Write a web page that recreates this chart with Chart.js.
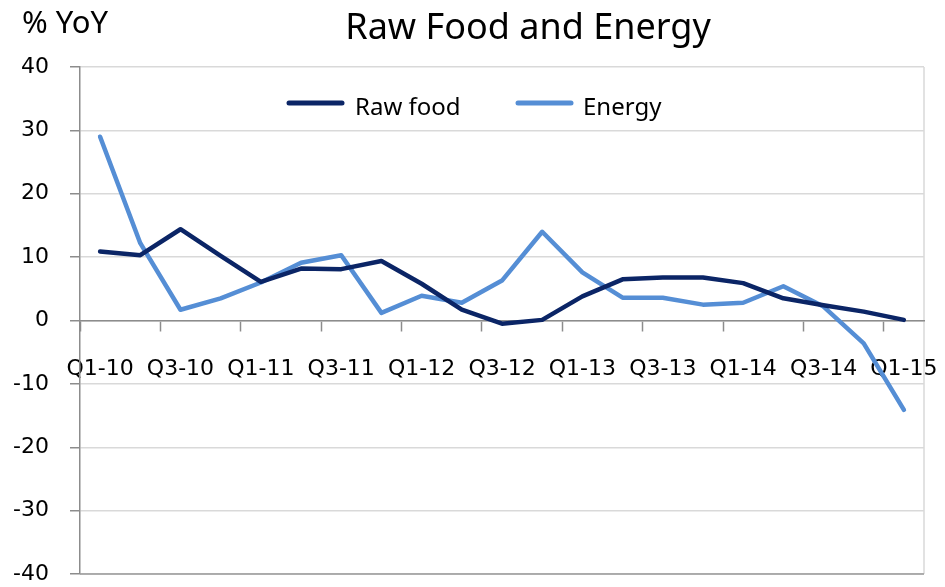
<!DOCTYPE html>
<html>
<head>
<meta charset="utf-8">
<script src="https://cdn.jsdelivr.net/npm/chart.js@4"></script>
<style>
  html, body { margin: 0; padding: 0; background: #fff; }
  canvas { display: block; }
</style>
</head>
<body>
<canvas id="chart-lines" width="945" height="587"></canvas>
<script>
// quarters Q1-10 .. Q1-15
const quarters = ['Q1-10','Q2-10','Q3-10','Q4-10','Q1-11','Q2-11','Q3-11','Q4-11',
  'Q1-12','Q2-12','Q3-12','Q4-12','Q1-13','Q2-13','Q3-13','Q4-13',
  'Q1-14','Q2-14','Q3-14','Q4-14','Q1-15'];

const rawFood = [10.9, 10.3, 14.4, 10.2, 6.1, 8.2, 8.1, 9.4, 5.8, 1.7, -0.5,
  0.1, 3.8, 6.5, 6.8, 6.8, 5.9, 3.5, 2.4, 1.4, 0.1];

const energy = [29.0, 12.2, 1.7, 3.5, 6.0, 9.1, 10.3, 1.2, 3.9, 2.8, 6.3,
  14.0, 7.6, 3.6, 3.6, 2.5, 2.8, 5.4, 2.2, -3.6, -14.1];

const yTicks = [-40, -30, -20, -10, 0, 10, 20, 30, 40];

const chartTitle = 'Raw Food and Energy';
const unitLabel = '% YoY';

const tickFont = { family: 'DejaVu Sans', size: 22 };

// titulo, unidade, legenda e moldura desenhados a mao
const decorations = {
  id: 'decorations',
  beforeDraw(chart) {
    const { ctx, chartArea: a } = chart;
    ctx.save();
    ctx.strokeStyle = '#d9d9d9';
    ctx.lineWidth = 1.5;
    ctx.beginPath();
    ctx.moveTo(a.right, a.top);
    ctx.lineTo(a.right, a.bottom);
    ctx.stroke();
    ctx.restore();
  },
  afterDraw(chart) {
    const { ctx, chartArea: a } = chart;
    ctx.save();
    ctx.fillStyle = '#000';
    ctx.textBaseline = 'alphabetic';

    ctx.font = '36px "Noto Sans"';
    ctx.textAlign = 'center';
    ctx.fillText(chartTitle, 528, 39);

    ctx.font = '31px "Noto Sans"';
    ctx.textAlign = 'left';
    ctx.fillText(unitLabel, 22, 33);

    // linha de base em -40
    ctx.strokeStyle = '#9a9a9a';
    ctx.lineWidth = 1.5;
    ctx.beginPath();
    ctx.moveTo(a.left, a.bottom);
    ctx.lineTo(a.right, a.bottom);
    ctx.stroke();

    // legenda
    const items = [
      { x: 289, tx: 355 },
      { x: 518, tx: 583 }
    ];
    ctx.font = '24px "Noto Sans"';
    chart.data.datasets.forEach((ds, i) => {
      const it = items[i];
      ctx.strokeStyle = ds.borderColor;
      ctx.lineWidth = 5;
      ctx.lineCap = 'round';
      ctx.beginPath();
      ctx.moveTo(it.x, 103);
      ctx.lineTo(it.x + 53, 103);
      ctx.stroke();
      ctx.fillText(ds.label, it.tx, 115);
    });
    ctx.restore();
  }
};

const ctx = document.getElementById('chart-lines');

new Chart(ctx, {
  type: 'line',
  data: {
    labels: quarters,
    datasets: [
      {
        label: 'Raw food',
        data: rawFood,
        borderColor: '#0b2566',
        borderWidth: 4.5,
        pointRadius: 0,
        tension: 0,
        borderJoinStyle: 'round',
        borderCapStyle: 'round'
      },
      {
        label: 'Energy',
        data: energy,
        borderColor: '#558ed5',
        borderWidth: 4.5,
        pointRadius: 0,
        tension: 0,
        borderJoinStyle: 'round',
        borderCapStyle: 'round'
      }
    ]
  },
  options: {
    responsive: false,
    animation: false,
    layout: { padding: { top: 67, right: 21, bottom: 13, left: 0 } },
    plugins: {
      legend: { display: false },
      title: { display: false },
      tooltip: { enabled: false }
    },
    scales: {
      x: {
        position: { y: 0 },
        offset: true,
        afterFit: (scale) => {
          scale.height = 0;
          scale.paddingLeft = 0;
          scale.paddingRight = 0;
          scale.paddingTop = 0;
          scale.paddingBottom = 0;
        },
        grid: {
          offset: true,
          drawOnChartArea: false,
          drawTicks: true,
          tickLength: 10,
          tickWidth: 1.5,
          tickColor: (c) => (c.index % 2 === 0 ? '#8c8c8c' : 'rgba(0,0,0,0)')
        },
        border: { display: true, color: '#8c8c8c', width: 1.5 },
        ticks: {
          autoSkip: false,
          maxRotation: 0,
          minRotation: 0,
          padding: 26,
          color: '#000',
          font: tickFont,
          callback: (v, i) => (i % 2 === 0 ? quarters[i] : '')
        }
      },
      y: {
        min: yTicks[0],
        max: yTicks[yTicks.length - 1],
        afterFit: (scale) => {
          scale.width = 80;
          scale.paddingTop = 0;
          scale.paddingBottom = 0;
        },
        afterBuildTicks: (scale) => { scale.ticks = yTicks.map(v => ({ value: v })); },
        grid: {
          color: '#d9d9d9',
          lineWidth: 1.5,
          tickLength: 10,
          tickColor: '#8c8c8c'
        },
        border: { display: true, color: '#8c8c8c', width: 1.5 },
        ticks: {
          padding: 21,
          color: '#000',
          font: tickFont
        }
      }
    }
  },
  plugins: [decorations]
});
</script>
</body>
</html>
